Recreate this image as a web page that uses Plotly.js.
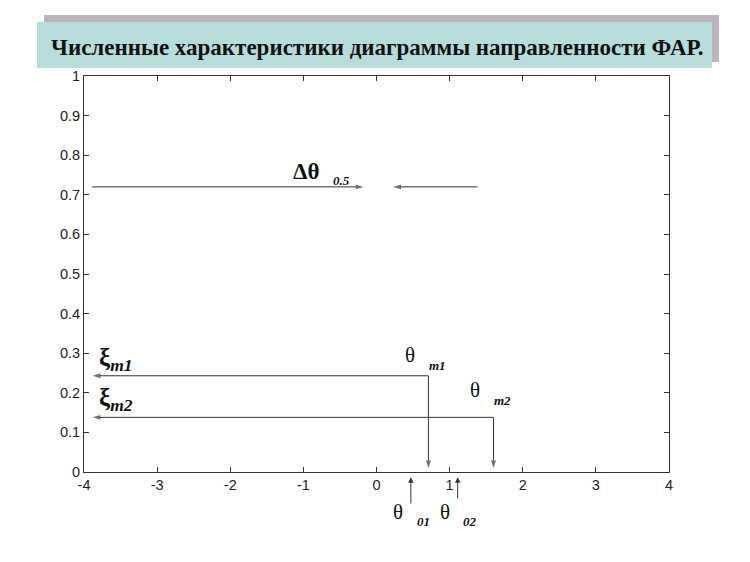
<!DOCTYPE html>
<html>
<head>
<meta charset="utf-8">
<script src="https://cdn.plot.ly/plotly-3.0.1.min.js"></script>
<style>
  body { margin: 0; background: #fff; }
  #SolutionPlot { width: 750px; height: 562px; }
</style>
</head>
<body>
<div id="SolutionPlot"></div>
<script>
// values
const xTicks = [-4, -3, -2, -1, 0, 1, 2, 3, 4];
const xTickLabels = ["-4", "-3", "-2", "-1", "0", "1", "2", "3", "4"];
const yTicks = [0, 0.1, 0.2, 0.3, 0.4, 0.5, 0.6, 0.7, 0.8, 0.9, 1];
const yTickLabels = ["0", "0.1", "0.2", "0.3", "0.4", "0.5", "0.6", "0.7", "0.8", "0.9", "1"];

// half-power width arrows: [from, to]
const halfPowerLevel = 0.72;
const halfPowerArrows = [[-3.89, -0.18], [1.38, 0.23]];

// side lobes
const lobeNames = ["m1", "m2"];
const lobeTheta = [0.71, 1.6];
const lobeLevel = [0.243, 0.138];
const lobeAxisEnd = -3.88;
const lobeFootEnd = 0.01;

// zeros of the pattern (arrows come up from below the axis)
const zeroNames = ["01", "02"];
const zeroTheta = [0.47, 1.11];
const zeroArrowStart = [-0.083, -0.071];
const zeroArrowEnd = -0.013;

const titleText = "Численные характеристики диаграммы направленности ФАР.";

const lineColor = "#333";
const serif = "Liberation Serif, Times New Roman, serif";
const plotHeight = 396;

function arrowTrace(x0, y0, x1, y1) {
    return {
        x: [x0, x1], y: [y0, y1],
        type: "scatter", mode: "lines+markers",
        line: { color: lineColor, width: 1 },
        marker: {
            symbol: "arrow", angleref: "previous",
            size: [0, 8], color: lineColor, line: { width: 0 },
        },
        hoverinfo: "skip",
    };
}

function buildTraces() {
    const traces = [];
    for (const a of halfPowerArrows) {
        traces.push(arrowTrace(a[0], halfPowerLevel, a[1], halfPowerLevel));
    }
    for (let i = 0; i < lobeNames.length; i++) {
        traces.push(arrowTrace(lobeTheta[i], lobeLevel[i], lobeAxisEnd, lobeLevel[i]));
        traces.push(arrowTrace(lobeTheta[i], lobeLevel[i], lobeTheta[i], lobeFootEnd));
    }
    return traces;
}

function label(x, y, text, size, anchor = "center", yref = "y") {
    return {
        x: x, y: y, xref: "x", yref: yref,
        text: text, showarrow: false,
        xanchor: anchor, yanchor: "middle",
        font: { family: serif, size: size, color: "#111" },
    };
}

function buildAnnotations() {
    const notes = [];

    notes.push(label(-0.96, 0.76, "<b>Δθ</b>", 23));
    notes.push(label(-0.48, 0.737, "<b><i>0.5</i></b>", 13));

    const symOffsets = [[0.295, 0.27], [0.207, 0.18]];
    const ksiY = [0.283, 0.184];
    for (let i = 0; i < lobeNames.length; i++) {
        notes.push(label(-3.82, ksiY[i],
            `<b>ξ</b><sub><b><i>${lobeNames[i]}</i></b></sub>`, 25, "left"));
        notes.push(label(lobeTheta[i] - 0.25, symOffsets[i][0], "θ", 21));
        notes.push(label(lobeTheta[i] + 0.12, symOffsets[i][1],
            `<b><i>${lobeNames[i]}</i></b>`, 13));
    }

    // below the axis the data range ends, so these go in paper units
    for (let i = 0; i < zeroNames.length; i++) {
        notes.push({
            x: zeroTheta[i], y: zeroArrowEnd, xref: "x", yref: "paper",
            ax: 0, ay: (zeroArrowEnd - zeroArrowStart[i]) * plotHeight,
            axref: "pixel", ayref: "pixel",
            text: "", showarrow: true,
            arrowhead: 2, arrowsize: 1.1, arrowwidth: 1,
            arrowcolor: lineColor, standoff: 0, startstandoff: 0,
        });
        notes.push(label(zeroTheta[i] - 0.17, -0.10, "θ", 21, "center", "paper"));
        notes.push(label(zeroTheta[i] + 0.17, -0.126,
            `<b><i>${zeroNames[i]}</i></b>`, 13, "center", "paper"));
    }

    // banner title
    notes.push({
        x: 0.5, y: 1.073, xref: "paper", yref: "paper",
        text: "<b>" + titleText + "</b>", showarrow: false,
        xanchor: "center", yanchor: "middle",
        font: { family: serif, size: 23, color: "#111" },
    });
    return notes;
}

function buildShapes() {
    return [
        {
            type: "rect", xref: "paper", yref: "paper",
            x0: -0.0684, x1: 1.0855, y0: 1.0354, y1: 1.154,
            fillcolor: "#bdb5bd", line: { width: 0 }, layer: "below",
        },
        {
            type: "rect", xref: "paper", yref: "paper",
            x0: -0.0803, x1: 1.0735, y0: 1.0202, y1: 1.1364,
            fillcolor: "#b6dcdc", line: { width: 0 }, layer: "below",
        },
    ];
}

function axis(range, ticks, labels) {
    return {
        range: range, tickvals: ticks, ticktext: labels,
        ticks: "inside", ticklen: 5, tickwidth: 1, tickcolor: lineColor,
        showline: true, linecolor: lineColor, linewidth: 1, mirror: "ticks",
        showgrid: false, zeroline: false, fixedrange: true,
        tickfont: { family: "Liberation Sans, Arial, sans-serif", size: 14.5, color: "#222" },
    };
}

const layout = {
    width: 750, height: 562,
    margin: { l: 84, r: 81, t: 76, b: 90 },
    paper_bgcolor: "#fff", plot_bgcolor: "#fff",
    showlegend: false,
    xaxis: axis([-4, 4], xTicks, xTickLabels),
    yaxis: axis([0, 1], yTicks, yTickLabels),
    annotations: buildAnnotations(),
    shapes: buildShapes(),
};

Plotly.newPlot("SolutionPlot", buildTraces(), layout, { staticPlot: true });
</script>
</body>
</html>
